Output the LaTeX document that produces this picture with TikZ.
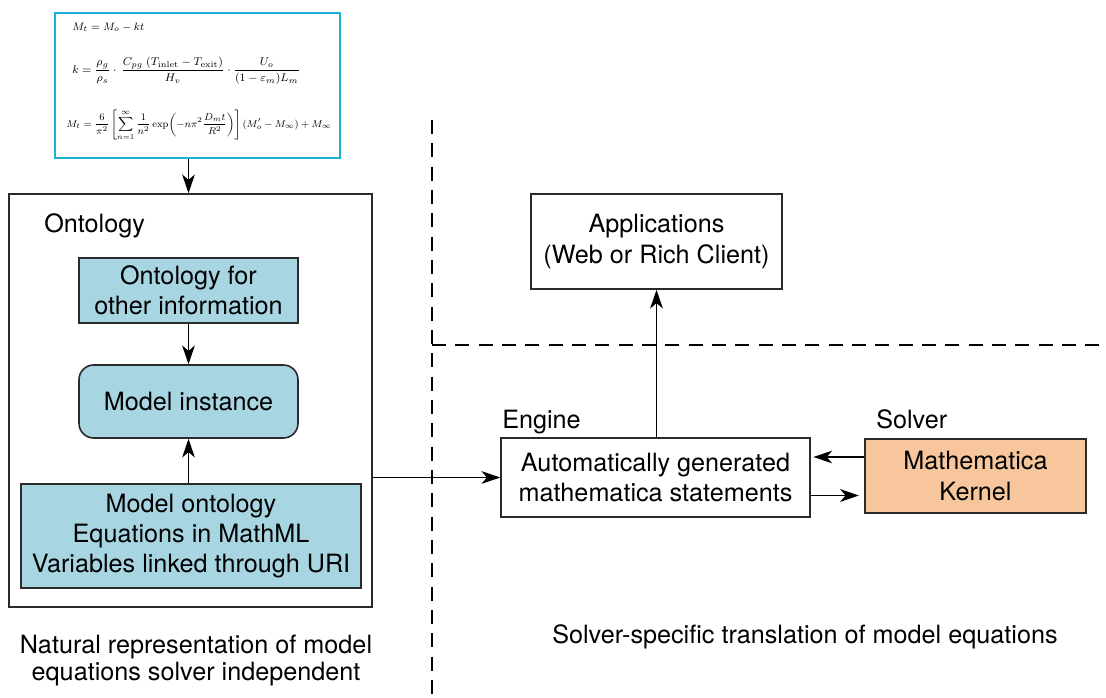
\documentclass[tikz,border=0pt]{standalone}
\usepackage{amsmath}
\usepackage{graphicx}
\usepackage[no-math]{fontspec}
\setmainfont{TeX Gyre Heros}
\usetikzlibrary{arrows.meta}
\definecolor{boxblue}{HTML}{A8D5E2}
\definecolor{boxorange}{HTML}{F7C69C}
\definecolor{eqcyan}{HTML}{1CB1D9}
\definecolor{edge}{HTML}{2A2A2A}
\tikzset{
  lbl/.style={font=\fontsize{18.9}{22.8}\selectfont, align=center, inner sep=0pt},
  plainbox/.style={draw=edge, line width=1.2pt, fill=white, lbl},
  bluebox/.style={draw=edge, line width=1.2pt, fill=boxblue, lbl},
  orangebox/.style={draw=edge, line width=1.2pt, fill=boxorange, lbl},
  arr/.style={line width=1.3pt, -{Stealth[length=14pt, width=9.5pt, inset=4pt]}},
  sep/.style={line width=1.0pt, dash pattern=on 10.5pt off 7pt},
  eqtext/.style={inner sep=0pt, anchor=west, font=\fontsize{8}{9.6}\selectfont},
}
\begin{document}
\begin{tikzpicture}[x=0.75pt, y=-0.75pt]
\useasboundingbox (0,0) rectangle (1106,698);

% separators
\draw[sep] (432,120) coordinate (vtop) -- (432,698) coordinate (vbot);
\draw[sep] (432,345) coordinate (hleft) -- (1106,345) coordinate (hright);

% equation box
\node[draw=eqcyan, line width=1.5pt, minimum width=285*0.75pt, minimum height=145*0.75pt, inner sep=0pt] (eq) at (197.5,85.5) {};
\node[eqtext] (eq1) at (72,27) {\resizebox{54pt}{!}{$M_t = M_o - kt$}};
\node[eqtext] (eq2) at (72,71) {\resizebox{171pt}{!}{$k=\dfrac{\rho_g}{\rho_s}\cdot\,\dfrac{C_{pg}\;(T_{\mathrm{inlet}}-T_{\mathrm{exit}})}{H_v}\cdot\dfrac{U_o}{(1-\varepsilon_m)L_m}$}};
\node[eqtext] (eq3) at (66,125) {\resizebox{199pt}{!}{$\displaystyle M_t=\frac{6}{\pi^2}\left[\sum_{n=1}^{\infty}\frac{1}{n^2}\exp\!\left(-n\pi^2\frac{D_m t}{R^2}\right)\right](M_o'-M_\infty)+M_\infty$}};

% ontology container
\node[plainbox, minimum width=363*0.75pt, minimum height=413*0.75pt] (ont) at (190.5,400.5) {};
\node[lbl, anchor=base west] (ontlbl) at (44,233) {Ontology};
\node[bluebox, minimum width=219*0.75pt, minimum height=65*0.75pt] (other) at (188.5,290.5) {Ontology for\\other information};
\node[bluebox, rounded corners=11pt, minimum width=219*0.75pt, minimum height=73*0.75pt] (inst) at (188.5,401.5) {Model instance};
\node[bluebox, minimum width=340*0.75pt, minimum height=104*0.75pt] (mo) at (191,536) {Model ontology\\Equations in MathML\\Variables linked through URI};

% right side
\node[plainbox, minimum width=251*0.75pt, minimum height=95*0.75pt] (apps) at (656.5,241.5) {Applications\\(Web or Rich Client)};
\node[plainbox, minimum width=309*0.75pt, minimum height=79*0.75pt] (engine) at (655.5,477.5) {Automatically generated\\mathematica statements};
\node[orangebox, minimum width=221*0.75pt, minimum height=74*0.75pt] (math) at (975.5,476) {Mathematica\\Kernel};
\node[lbl, anchor=base west] (englbl) at (502,428) {Engine};
\node[lbl, anchor=base west] (solvlbl) at (876,428) {Solver};

% bottom captions
\node[lbl, anchor=base] (capl1) at (196,653) {Natural representation of model};
\node[lbl, anchor=base] (capl2) at (196,680) {equations solver independent};
\node[lbl, anchor=base] (capr) at (805,643) {Solver-specific translation of model equations};

% connectors
\draw[arr] (eq.south -| inst.center) -- (ont.north -| inst.center);
\draw[arr] (other.south) -- (inst.north);
\draw[arr] (mo.north -| inst.center) -- (inst.south);
\draw[arr] (ont.east |- engine.west) -- (engine.west);
\draw[arr] (engine.north -| apps.south) -- (apps.south);
\draw[arr, shorten >=2pt] ([yshift=14.25pt]math.west) -- ([yshift=14.25pt]math.west -| engine.east);
\draw[arr, shorten >=4pt] ([yshift=-13.5pt]engine.east) -- ([yshift=-13.5pt]engine.east -| math.west);
\end{tikzpicture}
\end{document}
